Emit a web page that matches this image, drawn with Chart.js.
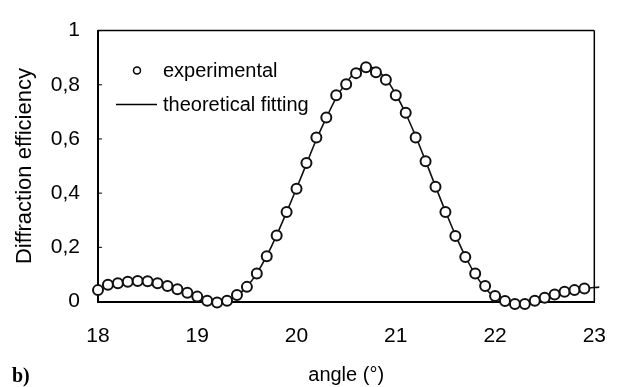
<!DOCTYPE html>
<html>
<head>
<meta charset="utf-8">
<script src="https://cdn.jsdelivr.net/npm/chart.js@4/dist/chart.umd.min.js"></script>
<style>
  body { margin: 0; background: #fff; }
  #wrap { position: relative; width: 628px; height: 387px; }
  #panel { position: absolute; left: 12px; top: 364px; font: bold 20px "Liberation Serif", serif; color: #000; }
</style>
</head>
<body>
<div id="wrap">
  <canvas id="chart" width="628" height="387"></canvas>
  <div id="panel">b)</div>
</div>
<script>
// angle (deg) of each measured point
const angles = [
  18.0, 18.1, 18.2, 18.3, 18.4, 18.5, 18.6, 18.7, 18.8, 18.9,
  19.0, 19.1, 19.2, 19.3, 19.4, 19.5, 19.6, 19.7, 19.8, 19.9,
  20.0, 20.1, 20.2, 20.3, 20.4, 20.5, 20.6, 20.7, 20.8, 20.9,
  21.0, 21.1, 21.2, 21.3, 21.4, 21.5, 21.6, 21.7, 21.8, 21.9,
  22.0, 22.1, 22.2, 22.3, 22.4, 22.5, 22.6, 22.7, 22.8, 22.9,
];
const experimental = [
  0.042, 0.062, 0.067, 0.073, 0.076, 0.075, 0.067, 0.057, 0.045, 0.032,
  0.018, 0.003, -0.004, 0.003, 0.024, 0.054, 0.103, 0.167, 0.244, 0.330,
  0.416, 0.511, 0.605, 0.679, 0.761, 0.802, 0.843, 0.865, 0.846, 0.819,
  0.761, 0.697, 0.605, 0.518, 0.424, 0.330, 0.242, 0.164, 0.103, 0.057,
  0.020, 0.002, -0.009, -0.009, 0.003, 0.014, 0.026, 0.036, 0.042, 0.048,
];

// theoretical curve
const fitAngles = angles.concat([23.05]);
const fitValues = [
  0.042, 0.058, 0.067, 0.073, 0.075, 0.073, 0.067, 0.057, 0.045, 0.031,
  0.017, 0.005, 0.000, 0.004, 0.022, 0.055, 0.104, 0.168, 0.245, 0.330,
  0.418, 0.508, 0.598, 0.678, 0.752, 0.807, 0.849, 0.868, 0.856, 0.822,
  0.765, 0.694, 0.610, 0.519, 0.425, 0.333, 0.246, 0.167, 0.100, 0.049,
  0.016, 0.000, -0.004, -0.003, 0.004, 0.015, 0.026, 0.036, 0.044, 0.049,
  0.053,
];

const xTicks = [18, 19, 20, 21, 22, 23];
const yTicks = [0, 0.2, 0.4, 0.6, 0.8, 1];

const FONT = '"Liberation Sans", Arial, sans-serif';

// box around the plot, small inner ticks on the y axis and the legend inside the plot
const framePlugin = {
  id: 'frame',
  afterDraw(chart) {
    const { ctx, chartArea: a, scales } = chart;
    ctx.save();
    ctx.strokeStyle = '#000';
    ctx.lineWidth = 1.5;
    ctx.beginPath();
    ctx.moveTo(a.left, a.top);
    ctx.lineTo(a.right, a.top);
    ctx.moveTo(a.right, a.top);
    ctx.lineTo(a.right, a.bottom);
    ctx.stroke();

    ctx.lineWidth = 1;
    yTicks.forEach((v) => {
      const y = scales.y.getPixelForValue(v);
      ctx.beginPath();
      ctx.moveTo(a.left, y);
      ctx.lineTo(a.left + 4, y);
      ctx.stroke();
    });

    // legend
    const lx = a.left + 18;
    ctx.font = '20px ' + FONT;
    ctx.fillStyle = '#000';
    ctx.textBaseline = 'middle';
    ctx.lineWidth = 1.5;
    ctx.beginPath();
    ctx.arc(lx + 21, a.top + 40, 3.5, 0, Math.PI * 2);
    ctx.fillStyle = '#fff';
    ctx.fill();
    ctx.stroke();
    ctx.fillStyle = '#000';
    ctx.fillText('experimental', lx + 47, a.top + 41);

    ctx.beginPath();
    ctx.moveTo(lx, a.top + 74);
    ctx.lineTo(lx + 41, a.top + 74);
    ctx.stroke();
    ctx.fillText('theoretical fitting', lx + 47, a.top + 75);
    ctx.restore();
  },
};

function setupChart() {
  new Chart(document.getElementById('chart'), {
    type: 'scatter',
    data: {
      datasets: [
        {
          label: 'experimental',
          data: angles.map((x, i) => ({ x, y: experimental[i] })),
          pointRadius: 5,
          pointBorderWidth: 2,
          pointBackgroundColor: '#fff',
          pointBorderColor: '#111',
          showLine: false,
          clip: false,
          order: 0,
        },
        {
          label: 'theoretical fitting',
          data: fitAngles.map((x, i) => ({ x, y: fitValues[i] })),
          showLine: true,
          borderColor: '#111',
          borderWidth: 1.6,
          tension: 0.35,
          pointRadius: 0,
          clip: false,
          order: 1,
        },
      ],
    },
    options: {
      responsive: false,
      animation: false,
      layout: { padding: { top: 29, right: 16, left: 0, bottom: 0 } },
      plugins: {
        legend: { display: false },
        tooltip: { enabled: false },
      },
      scales: {
        x: {
          type: 'linear',
          min: 18,
          max: 23,
          afterBuildTicks: (scale) => { scale.ticks = xTicks.map((value) => ({ value })); },
          afterFit: (scale) => { scale.height = 85.5; },
          grid: { display: false, drawTicks: false },
          border: { display: true, color: '#000', width: 2 },
          ticks: { color: '#000', padding: 22, font: { family: FONT, size: 21 } },
          title: {
            display: true,
            text: 'angle (°)',
            color: '#000',
            padding: { top: 0, bottom: 0 },
            font: { family: FONT, size: 20 },
          },
        },
        y: {
          min: 0,
          max: 1,
          afterBuildTicks: (scale) => { scale.ticks = yTicks.map((value) => ({ value })); },
          afterFit: (scale) => { scale.width = 98; },
          grid: { display: false, drawTicks: false },
          border: { display: true, color: '#000', width: 2 },
          ticks: {
            color: '#000',
            padding: 18,
            font: { family: FONT, size: 21 },
            callback: (v) => String(v).replace('.', ','),
          },
          title: {
            display: true,
            text: 'Diffraction efficiency',
            color: '#000',
            padding: { top: 12, bottom: 0 },
            font: { family: FONT, size: 22 },
          },
        },
      },
    },
    plugins: [framePlugin],
  });
}

document.addEventListener('DOMContentLoaded', setupChart);
</script>
</body>
</html>
